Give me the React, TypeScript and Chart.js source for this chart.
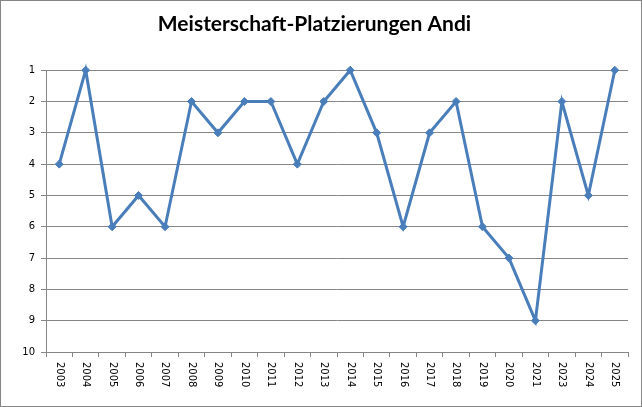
import React, { useEffect, useRef } from 'react';
import { Chart, registerables } from 'chart.js';

Chart.register(...registerables);

const years = ['2003', '2004', '2005', '2006', '2007', '2008', '2009', '2010', '2011', '2012', '2013',
  '2014', '2015', '2016', '2017', '2018', '2019', '2020', '2021', '2023', '2024', '2025'];
const placements = [4, 1, 6, 5, 6, 2, 3, 2, 2, 4, 2, 1, 3, 6, 3, 2, 6, 7, 9, 2, 5, 1];
const rankTicks = [1, 2, 3, 4, 5, 6, 7, 8, 9, 10];

const gridColor = '#868686';
const lineColor = '#4a7ebb';
const tickFont = '10px "DejaVu Sans", Verdana, sans-serif';

// x labels read top-to-bottom (rotated +90deg), which chart.js can't do itself
const verticalLabels = {
  id: 'verticalLabels',
  afterDraw(chart: Chart) {
    const { ctx } = chart;
    const x = chart.scales.x;
    ctx.save();
    ctx.font = tickFont;
    ctx.fillStyle = '#000';
    ctx.textAlign = 'left';
    ctx.textBaseline = 'middle';
    years.forEach((label, i) => {
      const px = x.getPixelForValue(i);
      ctx.save();
      ctx.translate(px, x.top + 10);
      ctx.rotate(Math.PI / 2);
      ctx.fillText(label, 0, 0);
      ctx.restore();
    });
    ctx.restore();
  },
};

const PlacementChart: React.FC = () => {
  const canvasRef = useRef<HTMLCanvasElement>(null);
  const chartRef = useRef<Chart | null>(null);

  useEffect(() => {
    if (!canvasRef.current) return;
    if (chartRef.current) chartRef.current.destroy();

    chartRef.current = new Chart(canvasRef.current, {
      type: 'line',
      data: {
        labels: years,
        datasets: [{
          label: 'Platzierung',
          data: placements,
          borderColor: lineColor,
          backgroundColor: lineColor,
          borderWidth: 3,
          tension: 0,
          clip: false,
          pointStyle: 'rectRot',
          pointRadius: 4,
          pointBorderWidth: 1,
          pointBackgroundColor: lineColor,
          pointBorderColor: lineColor,
        }],
      },
      options: {
        animation: false,
        responsive: true,
        maintainAspectRatio: false,
        layout: { padding: { left: 0, right: 13, top: 0, bottom: 0 } },
        plugins: {
          legend: { display: false },
          tooltip: { enabled: false },
          title: {
            display: true,
            text: 'Meisterschaft-Platzierungen Andi',
            color: '#000',
            font: { family: 'Lato, "Open Sans", sans-serif', size: 21, weight: 'bold' },
            padding: { top: 11, bottom: 33 },
          },
        },
        scales: {
          x: {
            offset: true,
            grid: {
              offset: true,
              drawOnChartArea: false,
              drawTicks: true,
              tickLength: 5,
              color: gridColor,
            },
            border: { color: gridColor, width: 1 },
            ticks: { display: false },
            afterFit: (scale) => { scale.height = 54; },
          },
          y: {
            reverse: true,
            min: 1,
            max: 10,
            afterBuildTicks: (scale) => {
              scale.ticks = rankTicks.map((v) => ({ value: v }));
            },
            grid: { color: gridColor, tickLength: 5, drawTicks: true },
            border: { color: gridColor, width: 1 },
            ticks: {
              color: '#000',
              font: { family: '"DejaVu Sans", Verdana, sans-serif', size: 10 },
              padding: 6,
            },
            afterFit: (scale) => { scale.width = 45; },
          },
        },
      },
      plugins: [verticalLabels],
    });

    return () => {
      if (chartRef.current) {
        chartRef.current.destroy();
        chartRef.current = null;
      }
    };
  }, []);

  return (
    <div style={{ width: 642, height: 407, boxSizing: 'border-box', border: `1px solid ${gridColor}`, background: '#fff' }}>
      <div style={{ position: 'relative', width: 640, height: 405 }}>
        <canvas ref={canvasRef}></canvas>
      </div>
    </div>
  );
};

export default function App() {
  useEffect(() => {
    document.body.style.margin = '0';
  }, []);
  return <PlacementChart />;
}
